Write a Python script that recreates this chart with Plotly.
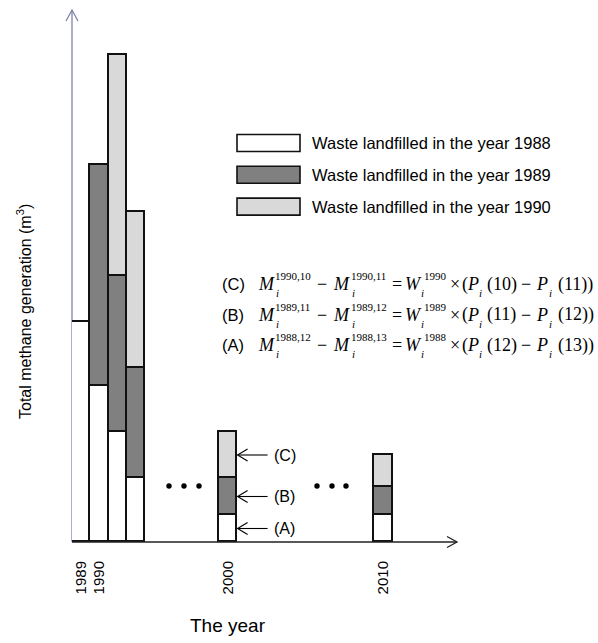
import plotly.graph_objects as go

# ---------------- data ----------------
YEARS = ["1989", "1990", "1991", "1992", "2000", "2010"]
WASTE_1988 = [220, 156, 110, 64, 27, 27]
WASTE_1989 = [None, 221, 156, 110, 37, 28]
WASTE_1990 = [None, None, 221, 156, 46, 32]
SERIES_NAMES = ["Waste landfilled in the year 1988",
                "Waste landfilled in the year 1989",
                "Waste landfilled in the year 1990"]
TICK_YEARS = ["1989", "1990", "2000", "2010"]
EQ_LABELS = ["(C)", "(B)", "(A)"]
EQ_YEARS = ["1990", "1989", "1988"]
EQ_T1 = [10, 11, 12]
EQ_T2 = [11, 12, 13]
ARROW_LABELS = ["(A)", "(B)", "(C)"]

# ---------------- layout constants ----------------
W, H = 598, 643
PL, PR, PT, PB = 72, 460, 10, 542   # plot area in pixels
PW, PH = PR - PL, PB - PT
SLOT = 18.33
SLOT_POS = {"1989": 0, "1990": 1, "1991": 2, "1992": 3, "2000": 8, "2010": 16.5}
X_RANGE = [-0.5, -0.5 + PW / SLOT]
Y_RANGE = [0, PH]
COLORS = ["#ffffff", "#808080", "#d9d9d9"]
SANS = "Liberation Sans, Arial, sans-serif"
SERIF = "Liberation Serif, Times New Roman, serif"


def pxx(px):
    return (px - PL) / PW


def pxy(py):
    return (PB - py) / PH


xs = [SLOT_POS[y] for y in YEARS]

fig = go.Figure()
for name, vals, col in zip(SERIES_NAMES, [WASTE_1988, WASTE_1989, WASTE_1990], COLORS):
    fig.add_trace(go.Bar(x=xs, y=vals, width=1, name=name, cliponaxis=False,
                         marker=dict(color=col, line=dict(color="#111111", width=1.6)),
                         showlegend=False, hoverinfo="skip"))

shapes = []
annotations = []

# axes with open arrow heads
AX_Y = "#7c84a6"
AX_X = "#222222"
shapes.append(dict(type="line", xref="paper", yref="paper", x0=pxx(72), x1=pxx(72),
                   y0=pxy(542), y1=pxy(10), line=dict(color=AX_Y, width=1.3), layer="below"))
shapes.append(dict(type="path", xref="paper", yref="paper",
                   path=f"M {pxx(66)} {pxy(21)} L {pxx(72)} {pxy(10)} L {pxx(78)} {pxy(21)}",
                   line=dict(color=AX_Y, width=1.3)))
shapes.append(dict(type="line", xref="paper", yref="paper", x0=pxx(72), x1=pxx(457),
                   y0=pxy(542), y1=pxy(542), line=dict(color=AX_X, width=1.3)))
shapes.append(dict(type="path", xref="paper", yref="paper",
                   path=f"M {pxx(447)} {pxy(536.5)} L {pxx(457)} {pxy(542)} L {pxx(447)} {pxy(547.5)}",
                   line=dict(color=AX_X, width=1.3)))

# ellipsis dots
for cx in [169, 184, 199, 317, 332, 346]:
    shapes.append(dict(type="circle", xref="paper", yref="paper",
                       x0=pxx(cx - 2.7), x1=pxx(cx + 2.7), y0=pxy(486 + 2.7), y1=pxy(486 - 2.7),
                       fillcolor="black", line=dict(width=0)))

# arrows (A),(B),(C) pointing at the 2000 bar segments
i2000 = YEARS.index("2000")
segs = [WASTE_1988[i2000], WASTE_1989[i2000], WASTE_1990[i2000]]
base = 0
tip = SLOT_POS["2000"] + 0.5 + 0.6 / SLOT
for lab, v in zip(ARROW_LABELS, segs):
    ym = base + v / 2
    base += v
    shapes.append(dict(type="line", xref="x", yref="y", x0=tip, x1=tip + 30 / SLOT,
                       y0=ym, y1=ym, line=dict(color="black", width=1.1)))
    shapes.append(dict(type="path", xref="x", yref="y",
                       path=f"M {tip + 10 / SLOT} {ym + 6} L {tip} {ym} L {tip + 10 / SLOT} {ym - 6}",
                       line=dict(color="black", width=1.1)))
    annotations.append(dict(xref="x", yref="y", x=tip + 34 / SLOT, y=ym, text=lab,
                            xanchor="left", yanchor="middle", showarrow=False,
                            font=dict(family=SANS, size=16, color="black")))

# legend (custom boxes)
for k, (name, col) in enumerate(zip(SERIES_NAMES, COLORS)):
    top = 134.5 + k * 31.8
    shapes.append(dict(type="rect", xref="paper", yref="paper",
                       x0=pxx(237), x1=pxx(300), y0=pxy(top + 17), y1=pxy(top),
                       fillcolor=col, line=dict(color="#111111", width=1.6)))
    annotations.append(dict(xref="paper", yref="paper", x=pxx(310), y=pxy(top + 8.5),
                            text=name, xanchor="left", yanchor="middle", showarrow=False,
                            font=dict(family=SANS, size=16.5, color="black")))

# equations
TOKENS = [
    ("{lab}", 220, "label"), ("M", 256, "it"), ("{y},{a}", 273, "sup"), ("i", 274, "sub"),
    ("\u2212", 315, "rm"), ("M", 331, "it"), ("{y},{b}", 349, "sup"), ("i", 350, "sub"),
    ("=", 390, "rm"), ("W", 403, "it"), ("{y}", 422, "sup"), ("i", 419, "sub"),
    ("\u00d7", 448, "rm"), ("(", 460, "rm"), ("P", 465, "it"), ("i", 477, "sub"),
    ("({a})", 485, "rm"), ("\u2212", 519, "rm"), ("P", 534, "it"), ("i", 547, "sub"),
    ("({b}))", 556, "rm"),
]
for r, (lab, yr, a, b) in enumerate(zip(EQ_LABELS, EQ_YEARS, EQ_T1, EQ_T2)):
    yc = 284 + r * 30.5
    for txt, x, kind in TOKENS:
        t = txt.format(lab=lab, y=yr, a=a, b=b)
        if kind == "label":
            font = dict(family=SANS, size=16.5, color="black"); yy = yc
        elif kind == "it":
            t = f"<i>{t}</i>"; font = dict(family=SERIF, size=18, color="black"); yy = yc
        elif kind == "rm":
            font = dict(family=SERIF, size=18, color="black"); yy = yc
        elif kind == "sup":
            font = dict(family=SERIF, size=11, color="black"); yy = yc - 8
        else:
            t = f"<i>{t}</i>"; font = dict(family=SERIF, size=11, color="black"); yy = yc + 9
        annotations.append(dict(xref="paper", yref="paper", x=pxx(x), y=pxy(yy), text=t,
                                xanchor="left", yanchor="middle", showarrow=False, font=font))

# axis titles
annotations.append(dict(xref="paper", yref="paper", x=pxx(24), y=pxy(312),
                        text="Total methane generation (m<sup>3</sup>)", textangle=-90,
                        xanchor="center", yanchor="middle", showarrow=False,
                        font=dict(family=SANS, size=16, color="black")))
annotations.append(dict(xref="paper", yref="paper", x=pxx(228), y=pxy(625),
                        text="The year", xanchor="center", yanchor="middle", showarrow=False,
                        font=dict(family=SANS, size=19, color="black")))

fig.update_layout(
    width=W, height=H,
    margin=dict(l=PL, r=W - PR, t=PT, b=H - PB),
    paper_bgcolor="white", plot_bgcolor="white",
    barmode="stack", bargap=0, hovermode=False,
    shapes=shapes, annotations=annotations,
    xaxis=dict(range=X_RANGE, showgrid=False, zeroline=False, showline=False,
               tickvals=[SLOT_POS[y] for y in TICK_YEARS], ticktext=TICK_YEARS,
               tickangle=-90, ticks="outside", ticklen=12, tickcolor="rgba(0,0,0,0)",
               tickfont=dict(family=SANS, size=15, color="black")),
    yaxis=dict(range=Y_RANGE, showgrid=False, zeroline=False, showline=False,
               showticklabels=False, ticks=""),
)

fig.write_html("out.html", config={"displayModeBar": False},
               post_script="document.body.style.margin='0';document.body.style.overflow='hidden';")
